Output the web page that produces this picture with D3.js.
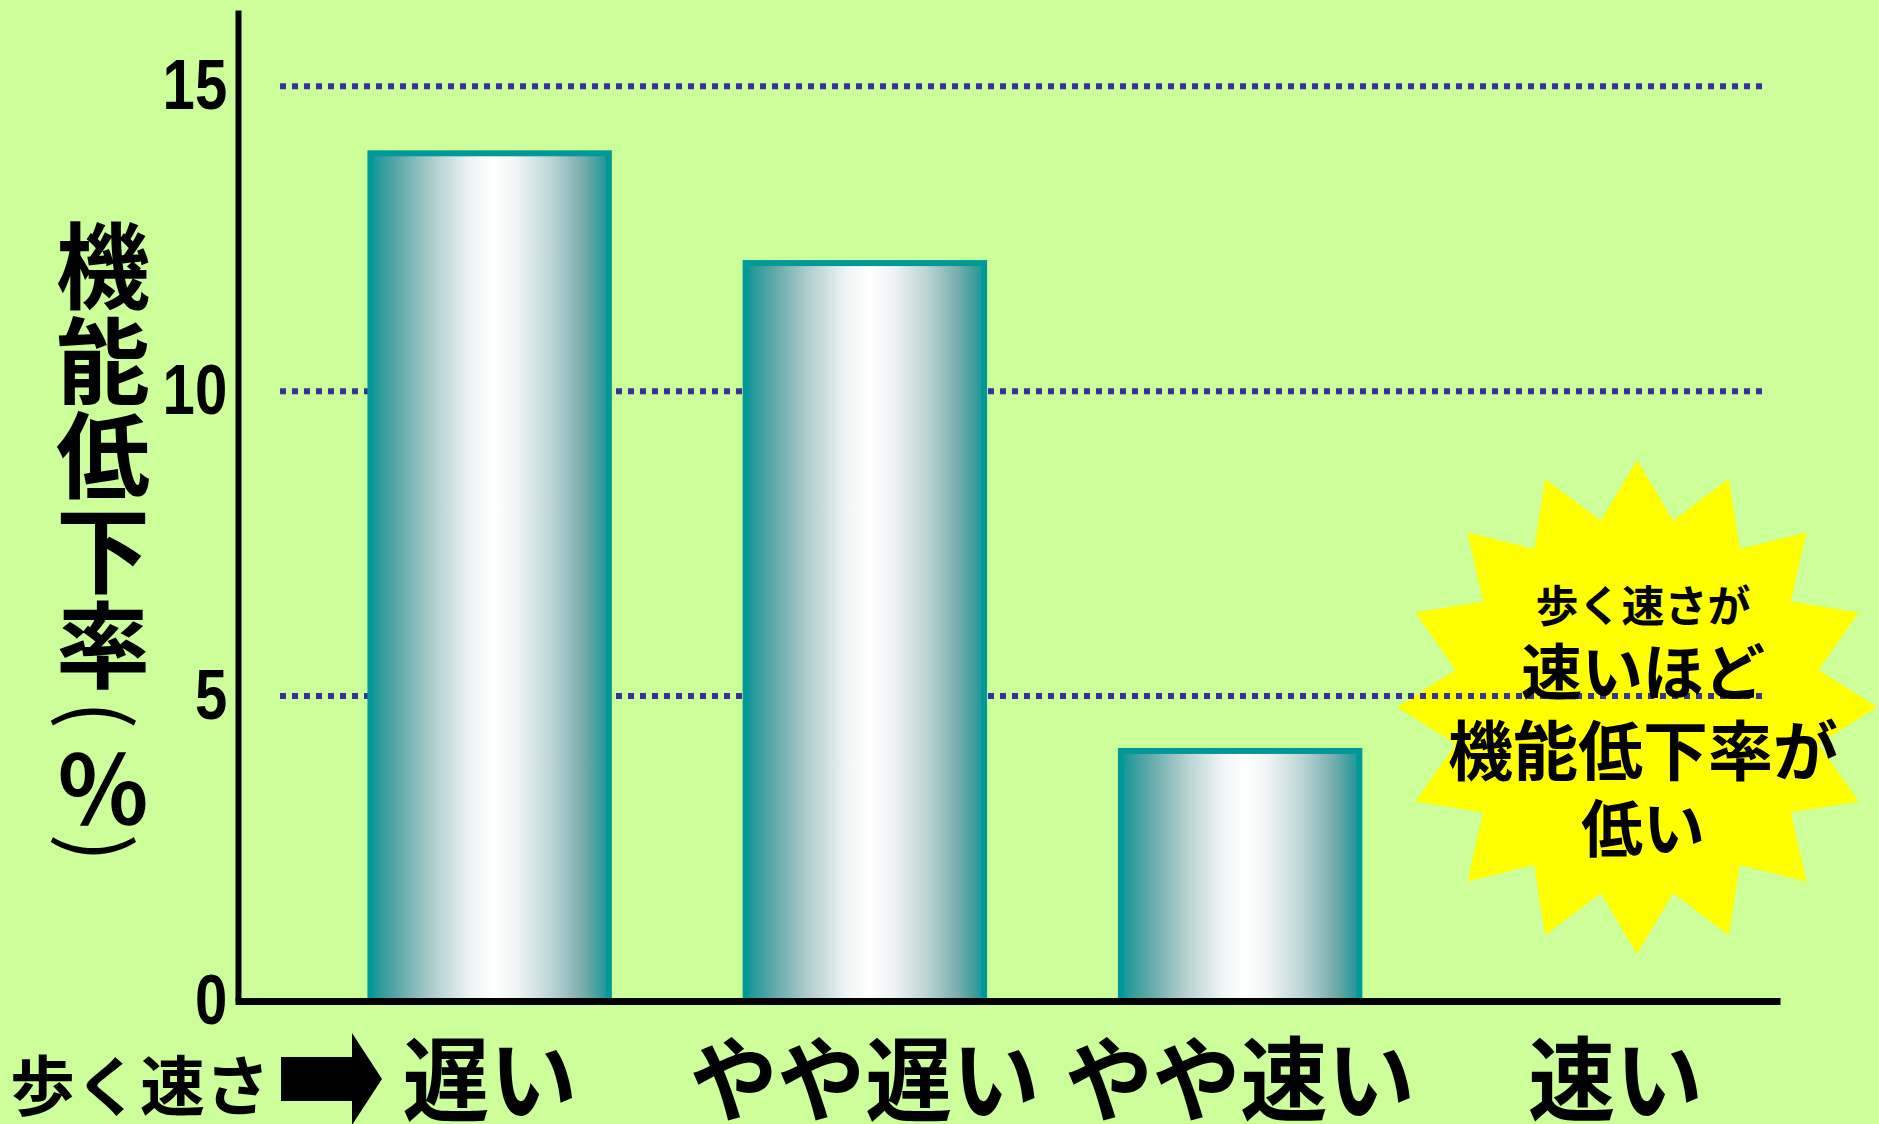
<!DOCTYPE html>
<html lang="ja">
<head>
<meta charset="utf-8">
<script src="https://cdn.jsdelivr.net/npm/d3@7"></script>
<style>
  html, body { margin: 0; padding: 0; background: #ccff99; }
  svg { display: block; }
</style>
</head>
<body>
<script>
// Walking speed categories and the share of people whose function declined (%)
const categories = ["遅い", "やや遅い", "やや速い", "速い"];
const declineRates = [13.9, 12.1, 4.1, null];
const yTicks = [0, 5, 10, 15];
const yTitleChars = ["機", "能", "低", "下", "率", "(", "％", ")"];
const xTitle = "歩く速さ";
const calloutLines = ["歩く速さが", "速いほど", "機能低下率が", "低い"];

const W = 1879, H = 1124;
const JP = "'Noto Sans CJK JP', 'Noto Sans CJK SC', sans-serif";

const svg = d3.select("body").append("svg")
  .attr("width", W).attr("height", H)
  .attr("viewBox", `0 0 ${W} ${H}`);

svg.append("rect").attr("width", W).attr("height", H).attr("fill", "#ccff99");

// Metallic teal-to-white gradient for the bars
const defs = svg.append("defs");
const grad = defs.append("linearGradient")
  .attr("id", "barGrad").attr("x1", "0%").attr("x2", "100%").attr("y1", "0%").attr("y2", "0%");
[
  [0, "#0f9595"], [0.12, "#62a9a9"], [0.27, "#b4cfcf"], [0.42, "#eef4f4"],
  [0.52, "#ffffff"], [0.62, "#eef3f3"], [0.76, "#bdd4d4"], [0.89, "#78adad"], [1, "#1a9595"]
].forEach(([o, c]) => grad.append("stop").attr("offset", o).attr("stop-color", c));

// Scales
const y = d3.scaleLinear().domain([0, 16.25]).range([1001, 10]);
const x = d3.scaleBand().domain(categories).range([302, 1803])
  .paddingInner(0.3646).paddingOuter(0.1823);

// Starburst callout
const cx = 1637, cy = 707;
const starPts = d3.range(32).map(i => {
  const a = -Math.PI / 2 + i * Math.PI / 16;
  const outer = i % 2 === 0;
  const rx = outer ? 240 : 185, ry = outer ? 247 : 190;
  return [cx + rx * Math.cos(a), cy + ry * Math.sin(a)];
});
svg.append("polygon")
  .attr("points", starPts.map(p => p.join(",")).join(" "))
  .attr("fill", "#ffff00");

// Dotted gridlines
svg.append("g").selectAll("line")
  .data(yTicks.filter(d => d > 0))
  .join("line")
  .attr("x1", 280).attr("x2", 1763)
  .attr("y1", d => y(d)).attr("y2", d => y(d))
  .attr("stroke", "#333399")
  .attr("stroke-width", 6)
  .attr("stroke-dasharray", "6 6");

// Bars
svg.append("g").selectAll("rect")
  .data(categories.map((c, i) => ({ c, v: declineRates[i] })).filter(d => d.v != null))
  .join("rect")
  .attr("x", d => x(d.c))
  .attr("width", x.bandwidth())
  .attr("y", d => y(d.v))
  .attr("height", d => y(0) - y(d.v))
  .attr("fill", "url(#barGrad)")
  .attr("stroke", "#009999")
  .attr("stroke-width", 6);

// Y axis
const yAxis = svg.append("g")
  .attr("transform", "translate(238,0)")
  .call(d3.axisLeft(y).tickValues(yTicks).tickSize(0).tickSizeOuter(0).tickPadding(0).tickFormat(d3.format("d")));
yAxis.select(".domain").attr("stroke", "#000").attr("stroke-width", 6);
yAxis.selectAll(".tick text")
  .attr("x", -13)
  .attr("transform", "scale(0.83,1)")
  .attr("font-family", "'Liberation Sans', Arial, sans-serif")
  .attr("font-weight", 700)
  .attr("font-size", 70)
  .attr("fill", "#000");

// X axis
const xAxis = svg.append("g")
  .attr("transform", `translate(0,${y(0)})`)
  .call(d3.axisBottom(d3.scaleLinear().domain([0, 1]).range([235, 1780])).tickValues([]).tickSizeOuter(0));
xAxis.select(".domain").attr("stroke", "#000").attr("stroke-width", 7);

// Category labels
svg.append("g").selectAll("text")
  .data(categories)
  .join("text")
  .attr("transform", d => `translate(${x(d) + x.bandwidth() / 2},1074) scale(0.95,1)`)
  .attr("text-anchor", "middle")
  .attr("dominant-baseline", "central")
  .attr("font-family", JP)
  .attr("font-weight", 700)
  .attr("font-size", 92)
  .attr("fill", "#000")
  .text(d => d);

// X title with block arrow
svg.append("text")
  .attr("x", 140).attr("y", 1082)
  .attr("text-anchor", "middle")
  .attr("dominant-baseline", "central")
  .attr("font-family", JP)
  .attr("font-weight", 700)
  .attr("font-size", 65)
  .attr("fill", "#000")
  .text(xTitle);
svg.append("path")
  .attr("d", "M281,1057 H352 V1033 L382,1079 L352,1125 V1101 H281 Z")
  .attr("fill", "#000");

// Vertical y-axis title; the brackets are turned to sit in the column
const yTitleY = [261, 356, 450, 545, 640, 715, 784, 848];
const yTitle = svg.append("g");
yTitleChars.forEach((ch, i) => {
  const isParen = ch === "(" || ch === ")";
  yTitle.append("text")
    .attr("transform", `translate(103,${yTitleY[i]})` + (isParen ? " rotate(90)" : ""))
    .attr("text-anchor", "middle")
    .attr("dominant-baseline", "central")
    .attr("font-family", JP)
    .attr("font-weight", isParen ? 400 : 700)
    .attr("font-size", isParen ? 84 : 94)
    .attr("fill", "#000")
    .text(ch);
});

// Callout text
const calloutSizes = [43, 61, 65, 62];
const calloutY = [603, 668, 747, 825];
svg.append("g").selectAll("text")
  .data(calloutLines)
  .join("text")
  .attr("x", 1643)
  .attr("y", (d, i) => calloutY[i])
  .attr("text-anchor", "middle")
  .attr("dominant-baseline", "central")
  .attr("font-family", JP)
  .attr("font-weight", 700)
  .attr("font-size", (d, i) => calloutSizes[i])
  .attr("fill", "#000")
  .text(d => d);
</script>
</body>
</html>
